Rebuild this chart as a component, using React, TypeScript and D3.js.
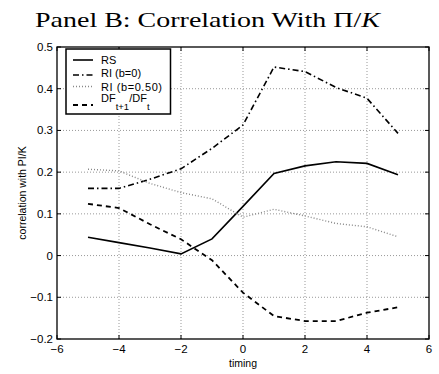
import React from "react";
import * as d3 from "d3";

const timing = [-5, -4, -3, -2, -1, 0, 1, 2, 3, 4, 5];
const rs = [0.044, 0.031, 0.018, 0.004, 0.04, 0.118, 0.197, 0.215, 0.225, 0.221, 0.194];
const riB0 = [0.161, 0.161, 0.183, 0.208, 0.257, 0.313, 0.452, 0.441, 0.403, 0.377, 0.293];
const riB050 = [0.207, 0.203, 0.173, 0.151, 0.136, 0.092, 0.111, 0.095, 0.077, 0.069, 0.045];
const dfRatio = [0.124, 0.114, 0.075, 0.039, -0.011, -0.089, -0.145, -0.157, -0.157, -0.137, -0.124];
const xTicks = [-6, -4, -2, 0, 2, 4, 6];
const yTicks = [-0.2, -0.1, 0, 0.1, 0.2, 0.3, 0.4, 0.5];

const W = 439, H = 374;
const L = 57, R = 429, T = 47, B = 339;

const fmt = (v: number) => {
  const s = Math.abs(v) < 1e-9 ? "0" : String(+v.toFixed(1));
  return s.replace("-", "\u2212");
};

export default function App() {
  const x = d3.scaleLinear().domain([-6, 6]).range([L, R]);
  const y = d3.scaleLinear().domain([-0.2, 0.5]).range([B, T]);
  const line = (vals: number[]) =>
    d3.line<number>().x((_, i) => x(timing[i])).y((v) => y(v))(vals) || "";

  const series = [
    { name: "RS", vals: rs, stroke: "#000", dash: "none", w: 1.6 },
    { name: "RI (b=0)", vals: riB0, stroke: "#000", dash: "6,3,1.5,3", w: 1.6 },
    { name: "RI (b=0.50)", vals: riB050, stroke: "#888", dash: "1,2", w: 1.4 },
    { name: "DF", vals: dfRatio, stroke: "#000", dash: "5,4", w: 1.8 },
  ];

  const font = "Liberation Sans, Arial, sans-serif";
  const legLineY = [60, 75, 86.5, 105];
  const legTextY = [63.5, 77, 90.5, 101.5];

  return (
    <svg width={W} height={H} style={{ position: "absolute", left: 0, top: 0 }}>
      <rect width={W} height={H} fill="#fff" />
      <text x={35} y={27} fontFamily="Liberation Serif, Times New Roman, serif" fontSize={21} textLength={345} lengthAdjust="spacingAndGlyphs" fill="#000">
        Panel B: Correlation With Π/<tspan fontStyle="italic">K</tspan>
      </text>
      {/* grid */}
      {xTicks.slice(1, -1).map((t) => (
        <line key={"gx" + t} x1={x(t)} x2={x(t)} y1={T} y2={B} stroke="#999" strokeWidth={1} strokeDasharray="1,2" />
      ))}
      {yTicks.slice(1, -1).map((t) => (
        <line key={"gy" + t} x1={L} x2={R} y1={y(t)} y2={y(t)} stroke="#999" strokeWidth={1} strokeDasharray="1,2" />
      ))}
      {/* ticks */}
      {xTicks.map((t) => (
        <g key={"tx" + t}>
          <line x1={x(t)} x2={x(t)} y1={B} y2={B - 4} stroke="#000" />
          <line x1={x(t)} x2={x(t)} y1={T} y2={T + 4} stroke="#000" />
          <text x={x(t)} y={353} fontFamily={font} fontSize={11.5} textAnchor="middle">{fmt(t)}</text>
        </g>
      ))}
      {yTicks.map((t) => (
        <g key={"ty" + t}>
          <line x1={L} x2={L + 4} y1={y(t)} y2={y(t)} stroke="#000" />
          <line x1={R} x2={R - 4} y1={y(t)} y2={y(t)} stroke="#000" />
          <text x={53} y={y(t) + 4} fontFamily={font} fontSize={11.5} textAnchor="end">{fmt(t)}</text>
        </g>
      ))}
      {/* series */}
      {series.map((s) => (
        <path key={s.name} d={line(s.vals)} fill="none" stroke={s.stroke} strokeWidth={s.w} strokeDasharray={s.dash} />
      ))}
      <rect x={L} y={T} width={R - L} height={B - T} fill="none" stroke="#000" strokeWidth={1.3} />
      {/* legend */}
      <rect x={66} y={49} width={104.5} height={65} fill="#fff" stroke="#000" strokeWidth={1.5} />
      {series.map((s, i) => (
        <g key={"lg" + s.name}>
          <line x1={73} x2={93} y1={legLineY[i]} y2={legLineY[i]} stroke={s.stroke} strokeWidth={s.w} strokeDasharray={s.dash} />
          {i < 3 ? (
            <text x={101} y={legTextY[i]} fontFamily={font} fontSize={11} textLength={i === 2 ? 61 : undefined}>{s.name}</text>
          ) : (
            <text x={101} y={legTextY[i]} fontFamily={font} fontSize={11}>
              DF<tspan dy={8.5} fontSize={9.5}>t+1</tspan><tspan dy={-8.5}>/DF</tspan><tspan dy={8.5} fontSize={9.5}>t</tspan>
            </text>
          )}
        </g>
      ))}
      <text x={243} y={367} fontFamily={font} fontSize={10.5} textAnchor="middle">timing</text>
      <text transform={`translate(26,${(T + B) / 2}) rotate(-90)`} fontFamily={font} fontSize={10.5} textAnchor="middle">correlation with PI/K</text>
    </svg>
  );
}
